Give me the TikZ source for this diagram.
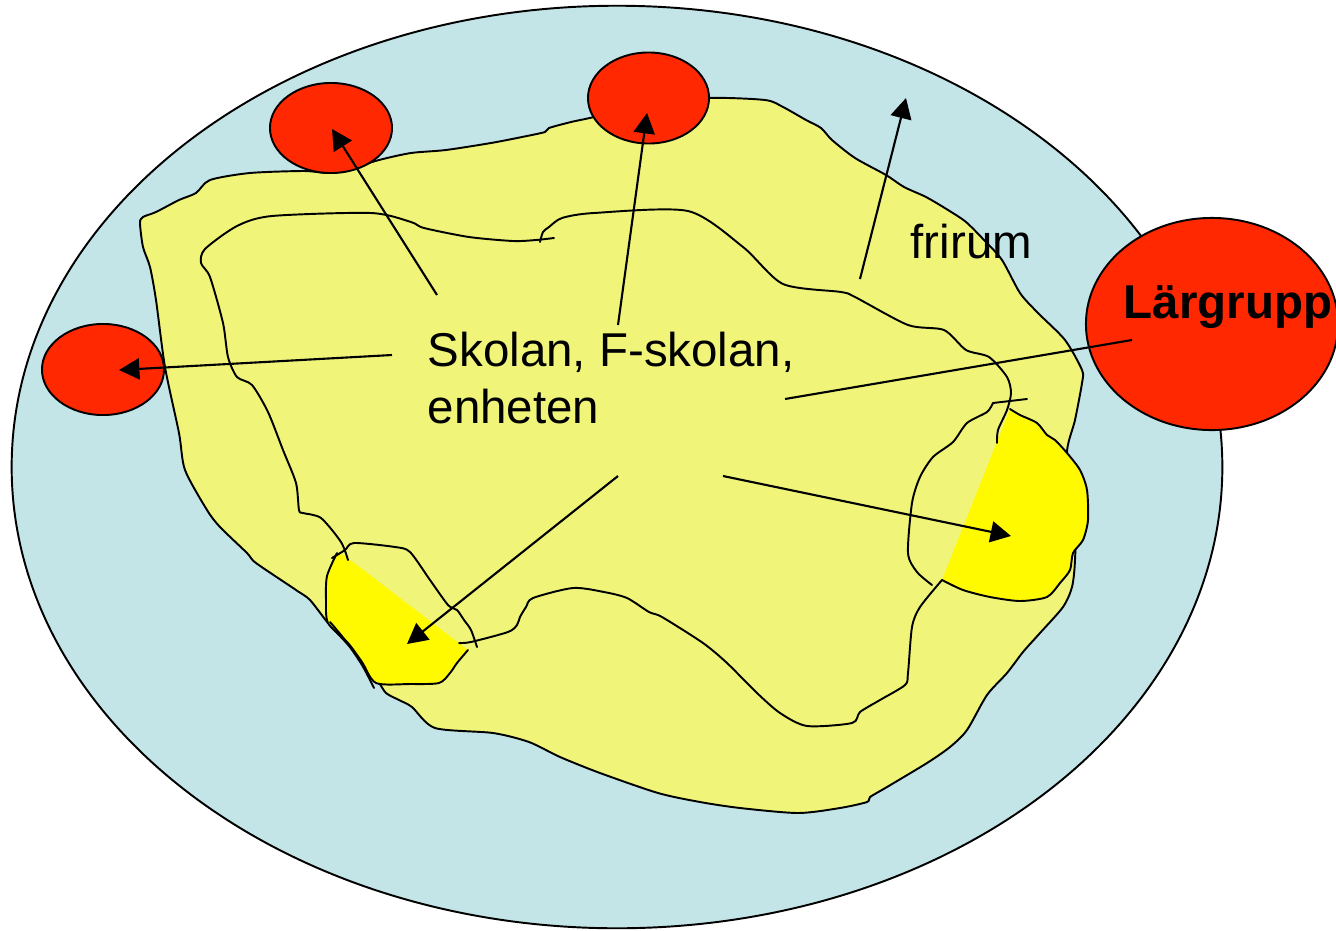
\documentclass[tikz,border=0pt]{standalone}
\usepackage{fontspec}
\setmainfont{Liberation Sans}
\usetikzlibrary{arrows.meta}
\definecolor{bgblue}{RGB}{196,229,232}
\definecolor{paleyel}{RGB}{240,245,122}
\definecolor{brightyel}{RGB}{255,250,0}
\definecolor{redc}{RGB}{255,40,0}
\tikzset{
  outl/.style={line width=0.55pt, line join=round, line cap=round},
  wave/.style={outl, smooth, tension=0.45},
  conn/.style={draw, line width=0.6pt, -{Triangle[length=5.8pt,width=6pt]}},
  plainconn/.style={draw, line width=0.6pt},
  redblob/.style={draw, outl, fill=redc},
  lbl/.style={inner sep=0pt, font=\fontsize{13.5}{16.2}\selectfont}
}
\begin{document}
\begin{tikzpicture}[x=0.01cm, y=-0.01cm]
\useasboundingbox (0,0) rectangle (1336,930);
% big light blue ellipse
\draw[outl, fill=bgblue] (617,467) ellipse [x radius=6.05cm, y radius=4.61cm];
% pale yellow region
\draw[outl, fill=paleyel] plot[smooth cycle, tension=0.45] coordinates {
 (708,98) (765,100) (783,107) (806,120) (821,128) (832,140) (855,158) (886,175)
 (904,187) (926,197) (948,210) (966,222) (984,240) (1002,260) (1020,293) (1038,313)
 (1065,340) (1082,370) (1082,383) (1075,420) (1067,453) (1076,500) (1075,560)
 (1072,587) (1063,607) (1040,633) (1023,652) (1007,673) (987,695) (967,730)
 (950,747) (927,763) (887,787) (870,797) (867,802) (840,808) (798,813) (740,808)
 (700,802) (658,793) (600,773) (560,757) (529,742) (493,733) (435,728) (412,707)
 (399,700) (386,693) (377,680) (350,647) (328,623) (310,600) (296,590) (256,563)
 (247,553) (220,527) (207,510) (185,470) (179,433) (165,367) (156,300) (150,267)
 (143,247) (140,223) (143,217) (156,212) (179,200) (196,193) (210,180) (250,173)
 (304,171) (330,173) (353,168) (379,160) (411,153) (446,150) (491,143) (522,137)
 (545,132) (549,128) (571,122) (594,117) (640,105)};
% bright yellow blob, right
\fill[brightyel] plot[smooth, tension=0.45] coordinates {
 (1010,409) (1020,415) (1037,423) (1047,435) (1055,440) (1067,453) (1080,470)
 (1087,490) (1088,520) (1083,540) (1073,553) (1070,570) (1060,583) (1047,597)
 (1020,601) (990,597) (963,590) (942,580)} -- cycle;
\draw[wave] plot[smooth, tension=0.45] coordinates {
 (1010,409) (1020,415) (1037,423) (1047,435) (1055,440) (1067,453) (1080,470)
 (1087,490) (1088,520) (1083,540) (1073,553) (1070,570) (1060,583) (1047,597)
 (1020,601) (990,597) (963,590) (942,580)};
% bright yellow blob, left
\fill[brightyel] plot[smooth, tension=0.45] coordinates {
 (345,556) (337,555) (327,576) (326,600) (328,623) (348,643) (362,662) (376,683)
 (410,684) (439,683) (450,673) (457,663) (468,650)} -- cycle;
\draw[wave] plot[smooth, tension=0.45] coordinates {
 (337,553) (327,576) (326,600) (328,623) (348,643) (362,662) (376,683)
 (410,684) (439,683) (450,673) (457,663) (468,650)};
\draw[wave] plot[smooth, tension=0.45] coordinates {
 (330,622) (345,640) (362,665) (374,688)};
% inner wavy lines
\draw[wave] plot coordinates {
 (554,238) (536,240) (513,241) (469,237) (424,228) (411,222) (371,213) (272,216)
 (237,226) (205,249) (201,263) (210,277) (223,323) (228,357) (237,377) (252,385)
 (268,412) (283,450) (296,483) (299,510) (303,513) (321,518) (341,542) (348,560)};
\draw[wave] plot coordinates {
 (540,242) (543,232) (549,227) (562,218) (594,213) (688,211) (743,247) (783,284)
 (841,292) (855,297) (908,325) (944,330) (966,350) (989,357) (1007,377) (1011,393)
 (1007,410) (998,430) (997,443)};
\draw[outl] (993,403) -- (1027,399);
\draw[wave] plot coordinates {
 (993,403) (987,412) (967,423) (953,442) (933,457) (920,477) (912,503) (908,553)
 (917,572) (932,585)};
\draw[wave] plot coordinates {
 (942,580) (920,607) (912,627) (908,673) (905,685) (880,700) (860,712) (852,723)
 (807,726) (780,713) (757,693) (727,663) (703,643) (662,617) (649,612) (627,598)
 (604,592) (573,588) (533,598) (526,607) (520,617) (517,625) (508,632) (471,642)
 (459,643)};
\draw[wave] plot coordinates {
 (477,647) (471,630) (464,620) (457,610) (448,605) (430,580) (410,552) (395,547)
 (354,543) (345,550) (332,558)};
% red circles
\path[redblob] (331,128) ellipse [x radius=0.61cm, y radius=0.45cm];
\path[redblob] (648.5,98) ellipse [x radius=0.605cm, y radius=0.455cm];
\path[redblob] (103,369.5) ellipse [x radius=0.61cm, y radius=0.455cm];
\path[redblob] (1212,324) ellipse [x radius=1.26cm, y radius=1.06cm];
% labels
\node[lbl, anchor=north west, align=left] (skolan) at (427,331) {Skolan, F-skolan,\\enheten};
\node[lbl, anchor=base west] (frirum) at (910,258) {frirum};
\node[lbl, anchor=base west, font=\fontsize{13.5}{16.2}\selectfont\bfseries] (lar) at (1123,318) {Lärgrupp};
% connector coordinates
\coordinate (sA) at (437,295); \coordinate (tA) at (332,129);
\coordinate (sB) at (618,325); \coordinate (tB) at (647,113);
\coordinate (sC) at (392,355); \coordinate (tC) at (119,370);
\coordinate (sF) at (860,279); \coordinate (tF) at (906,98);
\coordinate (sL) at (785,399); \coordinate (tL) at (1132,340);
\coordinate (sD) at (618,476); \coordinate (tD) at (407,644);
\coordinate (sE) at (723,476); \coordinate (tE) at (1011,536);
\draw[conn] (sA) -- (tA);
\draw[conn] (sB) -- (tB);
\draw[conn] (sC) -- (tC);
\draw[conn] (sF) -- (tF);
\draw[plainconn] (sL) -- (tL);
\draw[conn] (sD) -- (tD);
\draw[conn] (sE) -- (tE);
\end{tikzpicture}
\end{document}
